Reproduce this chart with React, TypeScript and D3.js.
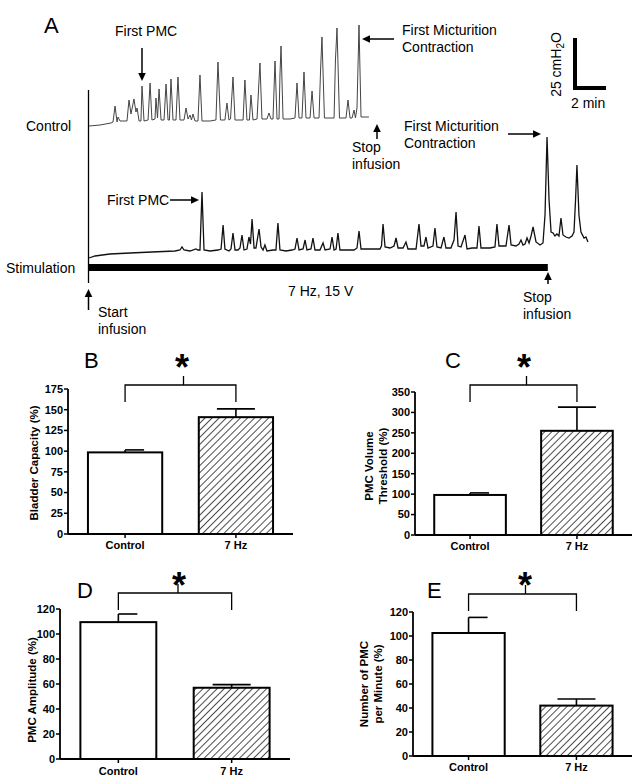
import React from "react";
import * as d3 from "d3";

// ---- Panel A traces: [time (min), pressure (cmH2O)] ----
const controlTrace: [number, number][] = [
  [0, 2], [0.71, 2.5], [1.42, 3.5], [1.55, 4], [1.68, 12], [1.81, 4], [1.87, 6.5], [2.0, 4.5],
  [2.45, 4.5], [2.58, 15], [2.71, 8], [2.9, 15.5], [3.03, 9], [3.1, 11], [3.23, 4.5],
  [3.35, 4.5], [3.42, 22], [3.55, 4.5], [3.81, 5], [3.94, 23.5], [4.06, 5],
  [4.26, 5.5], [4.32, 16], [4.42, 6], [4.52, 20.5], [4.65, 5],
  [4.84, 5], [4.97, 23], [5.1, 5], [5.19, 5], [5.29, 25.5], [5.42, 5],
  [5.61, 5], [5.74, 26.5], [5.87, 5], [6.13, 5], [6.26, 11], [6.39, 5.5], [6.52, 7.5],
  [6.61, 5], [6.71, 8], [6.84, 4.5], [7.03, 4.5], [7.16, 27.5], [7.29, 4.5],
  [7.81, 4.5], [8.19, 5], [8.32, 34], [8.48, 5], [8.77, 5], [8.9, 13.5], [9.03, 5],
  [9.13, 5.5], [9.29, 26.5], [9.42, 5], [9.94, 5], [10.06, 25], [10.19, 5],
  [10.35, 5], [10.45, 17.5], [10.58, 5], [10.84, 5.5], [10.97, 25], [11.03, 33.5], [11.16, 5.5],
  [11.48, 5.5], [11.61, 8.5], [11.74, 5.5], [11.87, 5.5], [12.0, 34.5], [12.13, 5.5],
  [12.26, 5.5], [12.32, 27.5], [12.39, 42], [12.52, 5.5], [12.97, 5.5], [13.29, 6],
  [13.42, 23.5], [13.55, 6], [13.74, 6], [13.87, 29], [14.0, 6], [14.26, 6], [14.39, 19.5],
  [14.52, 6], [14.84, 6], [14.94, 30], [15.03, 46.5], [15.19, 6], [15.81, 6], [15.9, 35],
  [16.0, 51], [16.16, 6], [16.58, 6], [16.71, 15], [16.84, 6], [16.97, 6], [17.1, 10],
  [17.19, 6], [17.29, 11], [17.42, 52.5], [17.55, 6.5], [17.74, 6.5], [18.06, 6.5],
];

const stimTrace: [number, number][] = [
  [0, -1.5], [0.39, -0.5], [1.35, 0.5], [2.65, 1], [4.06, 1.5], [5.55, 2], [5.87, 2.5],
  [6.0, 4], [6.13, 2.5], [6.52, 2], [6.9, 3], [7.03, 2.5], [7.16, 2.5], [7.29, 31.5],
  [7.42, 2.5], [7.81, 2], [8.32, 2.5], [8.52, 3], [8.65, 15], [8.77, 3], [9.03, 2],
  [9.16, 3], [9.29, 11], [9.42, 2.5], [9.61, 2.5], [9.74, 3.5], [9.87, 10], [10.0, 2.5],
  [10.19, 3], [10.32, 9], [10.42, 5.5], [10.52, 18], [10.65, 3.5], [10.77, 3.5], [10.97, 13],
  [11.1, 4], [11.23, 2.5], [11.35, 5], [11.48, 2], [11.87, 2.5], [12.06, 2.5], [12.19, 16],
  [12.32, 2.5], [12.71, 2], [13.1, 2.5], [13.29, 3], [13.42, 8.5], [13.55, 2.5], [13.81, 3],
  [13.94, 7.5], [14.06, 2.5], [14.32, 3], [14.45, 8.5], [14.58, 2.5], [14.9, 2.5], [15.1, 6],
  [15.23, 2.5], [15.55, 3], [15.68, 9], [15.81, 2.5], [15.94, 3], [16.06, 11], [16.19, 2.5],
  [16.71, 2.5], [17.1, 2.5], [17.29, 3.5], [17.42, 12], [17.55, 3], [18.13, 3], [18.77, 3],
  [18.87, 4.5], [18.97, 15.5], [19.1, 4], [19.42, 3.5], [19.68, 4.5], [19.81, 8.5], [19.94, 3.5],
  [20.26, 3.5], [20.45, 6.5], [20.58, 3], [21.1, 3], [21.29, 15.5], [21.42, 4.5], [21.61, 4.5],
  [21.74, 9], [21.87, 3.5], [22.19, 4.5], [22.32, 13.5], [22.45, 4], [22.71, 3.5], [22.9, 9],
  [23.03, 3.5], [23.35, 3.5], [23.55, 7.5], [23.68, 21.5], [23.81, 4.5], [24.0, 4], [24.26, 10],
  [24.39, 3], [24.71, 3.5], [25.03, 3.5], [25.16, 14.5], [25.29, 3.5], [25.87, 3.5], [26.19, 4],
  [26.32, 15.5], [26.45, 4.5], [26.9, 4.5], [27.1, 15], [27.23, 5], [27.55, 4.5], [27.74, 5.5],
  [27.87, 7.5], [28.0, 5], [28.13, 5.5], [28.26, 8.5], [28.39, 6], [28.52, 9.5], [28.65, 14],
  [28.84, 6.5], [29.1, 5], [29.29, 6], [29.42, 20], [29.55, 59], [29.68, 27.5], [29.81, 11.5],
  [29.94, 11], [30.06, 9.5], [30.19, 10.5], [30.32, 9.5], [30.45, 18.5], [30.58, 10], [30.77, 9],
  [30.97, 8.5], [31.16, 9.5], [31.29, 11.5], [31.39, 27.5], [31.48, 45], [31.61, 20], [31.74, 11.5],
  [31.94, 8.5], [32.06, 9], [32.19, 6.5],
];

// stimulation period (min) and scale-bar values
const stimPeriod = [0, 29.6];
const scaleBarMinutes = 2;
const scaleBarPressure = 25;

// ---- Bar charts ----
const categories = ["Control", "7 Hz"];
const capacityMean = [98.5, 141];
const capacityErr = [3, 10];
const capacityTicks = [0, 25, 50, 75, 100, 125, 150, 175];
const volumeMean = [98, 255];
const volumeErr = [5, 58];
const volumeTicks = [0, 50, 100, 150, 200, 250, 300, 350];
const amplitudeMean = [109.5, 57];
const amplitudeErr = [6.5, 2.5];
const amplitudeTicks = [0, 20, 40, 60, 80, 100, 120];
const numberMean = [102.5, 42];
const numberErr = [13, 5.5];
const numberTicks = [0, 20, 40, 60, 80, 100, 120];

const FONT = "'Liberation Sans', Arial, sans-serif";

const tx = d3.scaleLinear().domain([0, 2]).range([89, 120]);
const pyControl = d3.scaleLinear().domain([0, 25]).range([130, 80]);
const pyStim = d3.scaleLinear().domain([0, 25]).range([255, 205]);

function Arrow({ x1, y1, x2, y2 }: { x1: number; y1: number; x2: number; y2: number }) {
  const ang = Math.atan2(y2 - y1, x2 - x1);
  const L = 8, W = 3.8;
  const bx = x2 - L * Math.cos(ang), by = y2 - L * Math.sin(ang);
  const px = -Math.sin(ang) * W, py = Math.cos(ang) * W;
  return (
    <g>
      <line x1={x1} y1={y1} x2={bx} y2={by} stroke="#000" strokeWidth={1.5} />
      <path d={`M${x2},${y2}L${bx + px},${by + py}L${bx - px},${by - py}Z`} fill="#000" />
    </g>
  );
}

type PanelProps = {
  letter: string; letterX: number; letterY: number;
  left: number; right: number; bottom: number; top: number;
  ticks: number[]; means: number[]; errs: number[];
  labelLines: string[]; labelX: number[]; labelY: number;
  bracketY: number; starX: number; starY: number; xLabelY: number;
};

function BarPanel(p: PanelProps) {
  const max = p.ticks[p.ticks.length - 1];
  const x = d3.scaleBand().domain(categories).range([p.left, p.right]).paddingInner(0.33).paddingOuter(0.18);
  const y = d3.scaleLinear().domain([0, max]).range([p.bottom, p.top]);
  const cx = categories.map((c) => (x(c) as number) + x.bandwidth() / 2);
  const xm = (cx[0] + cx[1]) / 2 + 3;
  return (
    <g fontFamily={FONT}>
      <text x={p.letterX} y={p.letterY} fontSize={22}>{p.letter}</text>
      <text x={p.starX} y={p.starY} fontSize={36} fontWeight="bold" textAnchor="middle">*</text>
      <path d={`M${cx[0]},${p.bracketY + 17}V${p.bracketY}H${cx[1]}V${p.bracketY + 17}M${xm},${p.bracketY}V${p.bracketY - 9}`}
        fill="none" stroke="#000" strokeWidth={1.3} />
      {categories.map((c, i) => (
        <g key={c}>
          <line x1={cx[i]} x2={cx[i]} y1={y(p.means[i])} y2={y(p.means[i] + p.errs[i])} stroke="#000" strokeWidth={1.6} />
          <line x1={i === 0 ? cx[i] : cx[i] - 19} x2={cx[i] + 19} y1={y(p.means[i] + p.errs[i])} y2={y(p.means[i] + p.errs[i])} stroke="#000" strokeWidth={1.6} />
          <rect x={x(c)} y={y(p.means[i])} width={x.bandwidth()} height={p.bottom - y(p.means[i])}
            fill={i === 0 ? "#fff" : "url(#hatch)"} stroke="#000" strokeWidth={2} />
          <line x1={cx[i]} x2={cx[i]} y1={p.bottom} y2={p.bottom + 4} stroke="#000" strokeWidth={1.5} />
          <text x={cx[i]} y={p.xLabelY} fontSize={11} fontWeight="bold" textAnchor="middle">{c}</text>
        </g>
      ))}
      <line x1={p.left} x2={p.left} y1={p.bottom} y2={p.top} stroke="#000" strokeWidth={1.8} />
      <line x1={p.left} x2={p.right} y1={p.bottom} y2={p.bottom} stroke="#000" strokeWidth={1.8} />
      {p.ticks.map((t) => (
        <g key={t}>
          <line x1={p.left - 4} x2={p.left} y1={y(t)} y2={y(t)} stroke="#000" strokeWidth={1.5} />
          <text x={p.left - 5} y={y(t)} dy="0.35em" fontSize={11} fontWeight="bold" textAnchor="end">{t}</text>
        </g>
      ))}
      {p.labelLines.map((l, i) => (
        <text key={l} transform={`translate(${p.labelX[i]},${p.labelY}) rotate(-90)`} fontSize={11.5}
          fontWeight="bold" textAnchor="middle">{l}</text>
      ))}
    </g>
  );
}

export default function App() {
  const lineC = d3.line<[number, number]>().x((d) => tx(d[0])).y((d) => pyControl(d[1]));
  const lineS = d3.line<[number, number]>().x((d) => tx(d[0])).y((d) => pyStim(d[1]));
  const sbW = tx(scaleBarMinutes) - tx(0);
  const sbH = pyControl(0) - pyControl(scaleBarPressure);
  return (
    <svg width={639} height={781} style={{ position: "absolute", left: 0, top: 0, background: "#fff" }}>
      <defs>
        <pattern id="hatch" width={5} height={5} patternUnits="userSpaceOnUse" patternTransform="rotate(45)">
          <rect width={5} height={5} fill="#fff" />
          <line x1={0} y1={0} x2={0} y2={5} stroke="#000" strokeWidth={1.4} />
        </pattern>
      </defs>
      <rect width={639} height={781} fill="#fff" />
      <g fontFamily={FONT} fontSize={14}>
        <text x={44} y={33} fontSize={22}>A</text>
        <text x={115} y={36}>First PMC</text>
        <Arrow x1={142} y1={48} x2={142} y2={81} />
        <text x={402} y={35}>First Micturition</text>
        <text x={402} y={52}>Contraction</text>
        <Arrow x1={394} y1={39} x2={362} y2={39} />
        <text x={26} y={131}>Control</text>
        <line x1={88.5} x2={88.5} y1={90} y2={283} stroke="#000" strokeWidth={1.3} />
        <path d={lineC(controlTrace) as string} fill="none" stroke="#444" strokeWidth={1} />
        <Arrow x1={377} y1={139} x2={377} y2={124} />
        <text x={352} y={152}>Stop</text>
        <text x={352} y={169}>infusion</text>
        {/* scale bar */}
        <path d={`M575,${88 - sbH}V88H${575 + sbW}`} fill="none" stroke="#000" strokeWidth={4} />
        <text transform="translate(561,64.5) rotate(-90)" textAnchor="middle">
          25 cmH<tspan fontSize={10} dy={3}>2</tspan><tspan dy={-3}>O</tspan>
        </text>
        <text x={571} y={108}>2 min</text>
        <text x={404} y={131}>First Micturition</text>
        <text x={404} y={148}>Contraction</text>
        <Arrow x1={508} y1={134} x2={541} y2={134} />
        <text x={107} y={205}>First PMC</text>
        <Arrow x1={170} y1={200} x2={199} y2={200} />
        <path d={lineS(stimTrace) as string} fill="none" stroke="#111" strokeWidth={1.3} />
        <text x={6} y={273}>Stimulation</text>
        <rect x={tx(stimPeriod[0])} y={264} width={tx(stimPeriod[1]) - tx(stimPeriod[0])} height={7} fill="#000" />
        <text x={288} y={296}>7 Hz, 15 V</text>
        <Arrow x1={88.5} y1={310} x2={88.5} y2={289} />
        <text x={98} y={317}>Start</text>
        <text x={98} y={334}>infusion</text>
        <Arrow x1={548} y1={284} x2={548} y2={272} />
        <text x={523} y={302}>Stop</text>
        <text x={523} y={319}>infusion</text>
      </g>
      <BarPanel letter="B" letterX={84} letterY={368} left={68} right={293} bottom={534} top={389}
        ticks={capacityTicks} means={capacityMean} errs={capacityErr}
        labelLines={["Bladder Capacity (%)"]} labelX={[38]} labelY={463}
        bracketY={385} starX={182} starY={380} xLabelY={549} />
      <BarPanel letter="C" letterX={445} letterY={368} left={415} right={632} bottom={535} top={392}
        ticks={volumeTicks} means={volumeMean} errs={volumeErr}
        labelLines={["PMC Volume", "Threshold (%)"]} labelX={[373, 387]} labelY={466}
        bracketY={385} starX={524} starY={380} xLabelY={550} />
      <BarPanel letter="D" letterX={77} letterY={598} left={60} right={290} bottom={759} top={609}
        ticks={amplitudeTicks} means={amplitudeMean} errs={amplitudeErr}
        labelLines={["PMC Amplitude (%)"]} labelX={[36]} labelY={690}
        bracketY={593} starX={179} starY={598} xLabelY={775} />
      <BarPanel letter="E" letterX={427} letterY={598} left={413} right={632} bottom={756} top={612}
        ticks={numberTicks} means={numberMean} errs={numberErr}
        labelLines={["Number of PMC", "per Minute (%)"]} labelX={[368, 382]} labelY={684}
        bracketY={594} starX={525} starY={598} xLabelY={771} />
    </svg>
  );
}
